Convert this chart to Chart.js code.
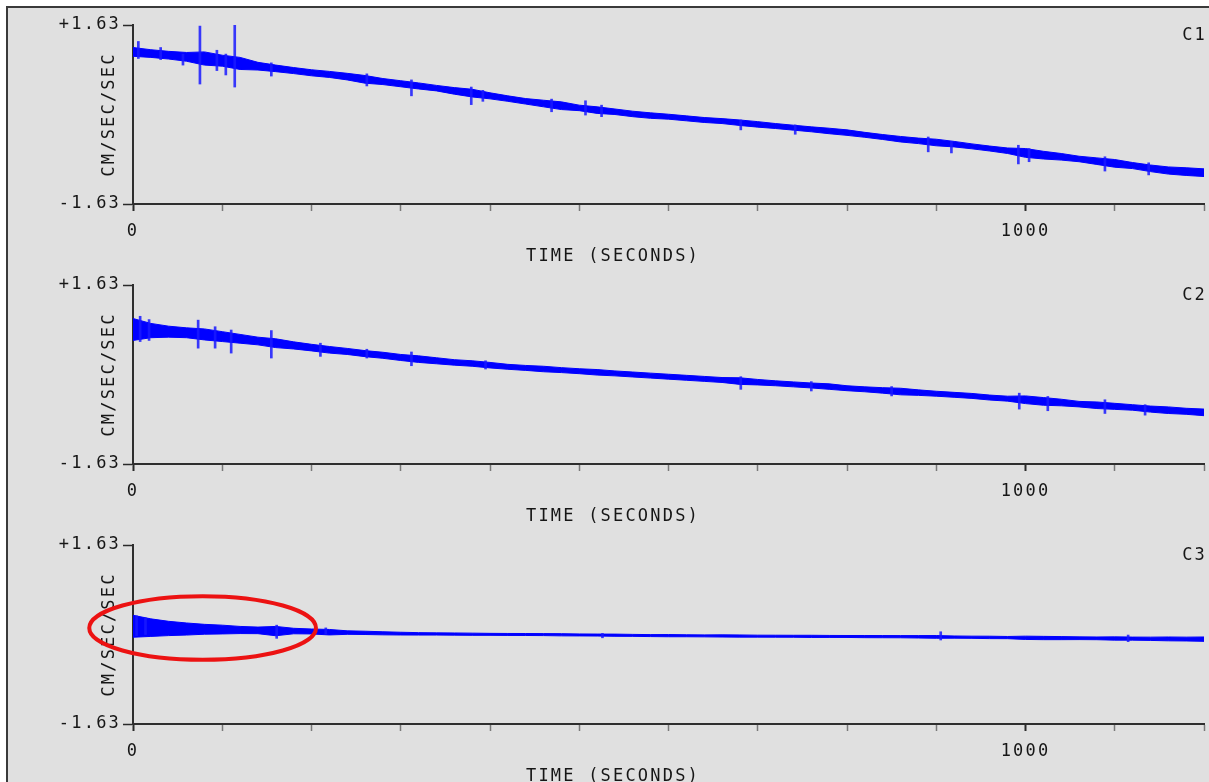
<!DOCTYPE html>
<html>
<head>
<meta charset="utf-8">
<script src="https://cdn.jsdelivr.net/npm/chart.js@4.4.1/dist/chart.umd.min.js"></script>
<style>
html,body{margin:0;padding:0;background:#ffffff;width:1209px;height:782px;overflow:hidden}
#frame{position:absolute;left:6px;top:6px;right:0;bottom:0;background:#e0e0e0;border-left:2px solid #3a3a3a;border-top:2px solid #3a3a3a}
.panel{position:absolute;left:0;width:1209px;height:282px}
canvas{display:block}
</style>
</head>
<body>
<div id="frame"></div>
<div class="panel" style="top:0px"><canvas id="p1" width="1209" height="282"></canvas></div>
<div class="panel" style="top:260px"><canvas id="p2" width="1209" height="282"></canvas></div>
<div class="panel" style="top:520px"><canvas id="p3" width="1209" height="282"></canvas></div>
<script>
// ---------- data ----------
const timeSec = [0,20,40,60,80,100,120,140,160,180,200,220,240,260,280,300,320,340,360,380,400,420,440,460,480,500,520,540,560,580,600,620,640,660,680,700,720,740,760,780,800,820,840,860,880,900,920,940,960,980,1000,1020,1040,1060,1080,1100,1120,1140,1160,1180,1200];

const xTickValues = [0,100,200,300,400,500,600,700,800,900,1000,1100,1200];
const xLabeledTicks = [0,1000];
const xLabelTexts = ['0','1000'];
const yTickValues = [-1.63, 1.63];
const yTickTexts = ['-1.63', '+1.63'];
const xTitle = 'TIME (SECONDS)';
const yTitle = 'CM/SEC/SEC';
const channelNames = ['C1','C2','C3'];

// channel C1 : centre of the trace and half-width of its noise band
const c1Center = [1.14,1.11,1.08,1.05,1.02,0.98,0.93,0.88,0.84,0.80,0.76,0.73,0.69,0.64,0.60,0.56,0.52,0.48,0.43,0.39,0.34,0.29,0.24,0.20,0.16,0.12,0.08,0.05,0.01,-0.02,-0.04,-0.07,-0.10,-0.12,-0.15,-0.18,-0.21,-0.24,-0.27,-0.30,-0.33,-0.37,-0.41,-0.45,-0.48,-0.51,-0.54,-0.58,-0.62,-0.66,-0.70,-0.74,-0.77,-0.81,-0.85,-0.89,-0.93,-0.98,-1.02,-1.04,-1.06];
const c1Spread = [0.08,0.07,0.07,0.08,0.12,0.10,0.11,0.07,0.06,0.055,0.055,0.055,0.06,0.07,0.055,0.055,0.055,0.05,0.06,0.07,0.055,0.05,0.05,0.06,0.07,0.05,0.06,0.05,0.05,0.05,0.045,0.045,0.045,0.045,0.05,0.05,0.045,0.045,0.045,0.05,0.05,0.045,0.045,0.05,0.05,0.06,0.05,0.045,0.045,0.05,0.08,0.07,0.06,0.05,0.06,0.07,0.055,0.06,0.065,0.07,0.07];
const c1SpikeTime = [6,31,56,75,94,104,114,155,262,312,379,392,469,507,525,681,742,891,917,992,1004,1089,1138];
const c1SpikeHigh = [1.33,1.22,1.10,1.61,1.17,1.10,1.63,0.94,0.74,0.63,0.50,0.44,0.28,0.25,0.17,-0.10,-0.19,-0.41,-0.49,-0.56,-0.62,-0.77,-0.88];
const c1SpikeLow  = [1.02,1.00,0.90,0.555,0.80,0.72,0.50,0.70,0.52,0.34,0.18,0.24,0.05,-0.01,-0.04,-0.28,-0.36,-0.68,-0.70,-0.90,-0.86,-1.03,-1.10];

// channel C2
const c2Center = [0.82,0.80,0.78,0.76,0.73,0.69,0.65,0.61,0.57,0.53,0.49,0.45,0.42,0.38,0.35,0.31,0.28,0.25,0.22,0.20,0.17,0.14,0.12,0.10,0.08,0.06,0.04,0.02,0.00,-0.02,-0.04,-0.06,-0.08,-0.10,-0.12,-0.14,-0.16,-0.18,-0.20,-0.22,-0.25,-0.27,-0.29,-0.31,-0.33,-0.35,-0.37,-0.39,-0.42,-0.44,-0.46,-0.49,-0.51,-0.54,-0.56,-0.58,-0.60,-0.63,-0.65,-0.67,-0.69];
const c2Spread = [0.20,0.13,0.10,0.09,0.10,0.09,0.08,0.07,0.08,0.065,0.06,0.06,0.055,0.055,0.055,0.055,0.06,0.055,0.05,0.05,0.05,0.045,0.045,0.05,0.045,0.045,0.05,0.045,0.045,0.045,0.045,0.045,0.045,0.045,0.06,0.05,0.045,0.045,0.045,0.05,0.045,0.045,0.05,0.06,0.05,0.045,0.045,0.045,0.045,0.045,0.07,0.07,0.06,0.05,0.06,0.055,0.05,0.055,0.06,0.055,0.06];
const c2SpikeTime = [8,18,73,92,110,155,210,262,312,395,681,760,850,993,1025,1089,1134];
const c2SpikeHigh = [1.06,1.00,0.99,0.87,0.81,0.80,0.57,0.46,0.41,0.25,-0.04,-0.13,-0.22,-0.34,-0.40,-0.46,-0.55];
const c2SpikeLow  = [0.60,0.62,0.48,0.48,0.39,0.30,0.33,0.30,0.16,0.10,-0.27,-0.30,-0.39,-0.63,-0.66,-0.71,-0.74];

// channel C3
const c3Center = [0.15,0.125,0.11,0.10,0.095,0.09,0.082,0.075,0.062,0.063,0.055,0.042,0.035,0.03,0.022,0.016,0.012,0.01,0.008,0.005,0.003,0.001,0.0,-0.002,-0.005,-0.008,-0.01,-0.013,-0.016,-0.02,-0.021,-0.023,-0.025,-0.026,-0.028,-0.03,-0.031,-0.032,-0.034,-0.035,-0.036,-0.038,-0.039,-0.04,-0.042,-0.044,-0.047,-0.05,-0.053,-0.056,-0.06,-0.064,-0.066,-0.068,-0.07,-0.073,-0.075,-0.078,-0.08,-0.083,-0.085];
const c3Spread = [0.20,0.16,0.13,0.11,0.09,0.08,0.065,0.06,0.085,0.05,0.045,0.05,0.032,0.03,0.028,0.025,0.022,0.02,0.02,0.02,0.018,0.018,0.018,0.018,0.02,0.018,0.018,0.02,0.018,0.018,0.02,0.018,0.018,0.02,0.02,0.018,0.018,0.018,0.02,0.018,0.018,0.02,0.02,0.02,0.022,0.025,0.02,0.02,0.022,0.02,0.03,0.03,0.028,0.025,0.025,0.03,0.028,0.03,0.035,0.035,0.04];
const c3SpikeTime = [4,14,161,216,526,905,1115];
const c3SpikeHigh = [0.34,0.30,0.17,0.12,0.02,0.05,-0.01];
const c3SpikeLow  = [-0.02,0.0,-0.07,0.01,-0.06,-0.10,-0.13];

// red annotation ellipse (data units: seconds, cm/sec/sec)
const markEllipseCenter = [78, 0.118];
const markEllipseRadius = [127, 0.58];

// ---------- styles ----------
const FONT = '17px "DejaVu Sans Mono"';
const LS = '2.2px';
const TEXT = '#161616';
const BLUE = '#0000ff';

const panelDecor = {
  id: 'panelDecor',
  beforeInit(chart){ chart.ctx.letterSpacing = LS; },
  beforeUpdate(chart){ chart.ctx.letterSpacing = LS; },
  beforeLayout(chart){ chart.ctx.letterSpacing = LS; },
  beforeDraw(chart){ chart.ctx.letterSpacing = LS; },
  afterDraw(chart, args, opts){
    const {ctx, chartArea} = chart;
    ctx.save();
    ctx.font = FONT; ctx.fillStyle = TEXT; ctx.letterSpacing = LS;
    ctx.textBaseline = 'middle';
    ctx.textAlign = 'right';
    ctx.fillText(opts.name, 1207, chartArea.top + 11);
    ctx.textAlign = 'center';
    ctx.fillText(xTitle, 613, chartArea.bottom + 53);
    ctx.translate(110, (chartArea.top + chartArea.bottom) / 2);
    ctx.rotate(-Math.PI / 2);
    ctx.fillText(yTitle, 0, 0);
    ctx.restore();
    if (opts.ellipse) {
      const xs = chart.scales.x, ys = chart.scales.y;
      const cx = xs.getPixelForValue(markEllipseCenter[0]);
      const cy = ys.getPixelForValue(markEllipseCenter[1]);
      const rx = xs.getPixelForValue(markEllipseCenter[0] + markEllipseRadius[0]) - cx;
      const ry = cy - ys.getPixelForValue(markEllipseCenter[1] + markEllipseRadius[1]);
      ctx.save();
      ctx.beginPath();
      ctx.ellipse(cx, cy, rx, ry, 0, 0, Math.PI * 2);
      ctx.strokeStyle = 'rgb(236,18,18)';
      ctx.lineWidth = 4;
      ctx.stroke();
      ctx.restore();
    }
  }
};

function makePanel(canvasId, name, center, spread, sT, sH, sL, ellipse){
  const upper = center.map((c, i) => ({x: timeSec[i], y: c + spread[i]}));
  const lower = center.map((c, i) => ({x: timeSec[i], y: c - spread[i]}));
  const spikes = sT.map((t, i) => ({x: t, y: [sL[i], sH[i]]}));
  return new Chart(document.getElementById(canvasId), {
    type: 'line',
    data: {
      datasets: [
        {type: 'line', data: upper, borderColor: BLUE, borderWidth: 1, pointRadius: 0, fill: false, tension: 0, order: 2},
        {type: 'line', data: lower, borderColor: BLUE, borderWidth: 1, pointRadius: 0, fill: '-1', backgroundColor: BLUE, tension: 0, order: 2},
        {type: 'bar', data: spikes, backgroundColor: 'rgba(25,25,255,0.85)', borderWidth: 0, barThickness: 2, order: 1}
      ]
    },
    options: {
      responsive: false,
      animation: false,
      devicePixelRatio: 1,
      events: [],
      layout: {padding: {top: 25, right: 5, left: 0, bottom: 22}},
      plugins: {legend: {display: false}, tooltip: {enabled: false}, panelDecor: {name: name, ellipse: ellipse}},
      scales: {
        x: {
          type: 'linear', min: 0, max: 1200, offset: false,
          afterBuildTicks: s => { s.ticks = xTickValues.map(v => ({value: v})); },
          afterFit: s => { s.height = 56; s.paddingLeft = 0; s.paddingRight = 0; },
          ticks: {
            autoSkip: false, maxRotation: 0, padding: 10, color: TEXT,
            font: {family: 'DejaVu Sans Mono', size: 17},
            callback: v => { const k = xLabeledTicks.indexOf(v); return k >= 0 ? xLabelTexts[k] : ''; }
          },
          grid: {
            offset: false, drawOnChartArea: false, drawTicks: true, tickLength: 7,
            tickColor: c => (c.tick && xLabeledTicks.indexOf(c.tick.value) >= 0) ? '#2a2a2a' : '#7a7a7a',
            tickWidth: c => (c.tick && xLabeledTicks.indexOf(c.tick.value) >= 0) ? 2 : 1.5
          },
          border: {display: true, color: '#2e2e2e', width: 2}
        },
        y: {
          type: 'linear', min: -1.63, max: 1.63, beginAtZero: false,
          afterBuildTicks: s => { s.ticks = yTickValues.map(v => ({value: v})); },
          afterFit: s => { s.width = 133; },
          ticks: {
            padding: 2, color: TEXT,
            font: {family: 'DejaVu Sans Mono', size: 17},
            callback: v => { const k = yTickValues.indexOf(v); return k >= 0 ? yTickTexts[k] : ''; }
          },
          grid: {offset: false, drawOnChartArea: false, drawTicks: true, tickLength: 10, tickColor: '#2a2a2a', tickWidth: 1.5},
          border: {display: true, color: '#2e2e2e', width: 2}
        }
      }
    },
    plugins: [panelDecor]
  });
}

makePanel('p1', channelNames[0], c1Center, c1Spread, c1SpikeTime, c1SpikeHigh, c1SpikeLow, false);
makePanel('p2', channelNames[1], c2Center, c2Spread, c2SpikeTime, c2SpikeHigh, c2SpikeLow, false);
makePanel('p3', channelNames[2], c3Center, c3Spread, c3SpikeTime, c3SpikeHigh, c3SpikeLow, true);
</script>
</body>
</html>
